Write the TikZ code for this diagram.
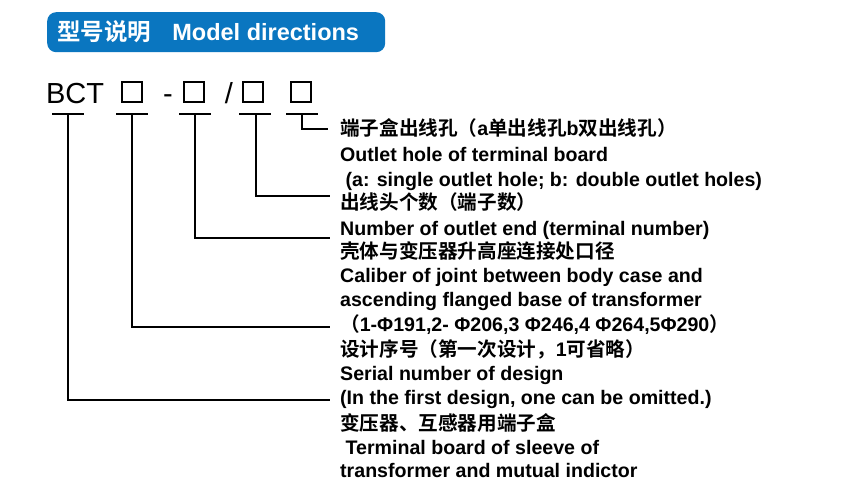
\documentclass[tikz,border=0pt]{standalone}
\usepackage{fontspec}
\setmainfont{Liberation Sans}
\newfontfamily\cjk{Noto Sans CJK SC}[BoldFont=* Bold]
\definecolor{banner}{HTML}{0A76C0}
\begin{document}
\begin{tikzpicture}[x=1pt,y=-1pt,
  txt/.style={anchor=base west,inner sep=0pt,font=\fontsize{19.6}{21}\selectfont\bfseries},
  code/.style={anchor=base,inner sep=0pt,font=\fontsize{29}{30}\selectfont},
  sq/.style={draw,line width=1.6pt,minimum width=20pt,minimum height=20pt,inner sep=0pt,anchor=south},
  ln/.style={line width=1.6pt}]
\useasboundingbox (0,0) rectangle (846,502);
\fill[white] (0,0) rectangle (846,502);
\node[fill=banner,rounded corners=9pt,minimum width=338pt,minimum height=40pt,anchor=north west,inner sep=0pt] (ban) at (47,12) {};
\node[anchor=west,text=white,inner sep=0pt,font=\fontsize{23.5}{25}\selectfont\bfseries] (bt) at (57,32) {{\cjk 型号说明}\hspace{0.9em}Model directions};
\node[code] (bct) at (75,104) {BCT};
\node[sq] (b1) at (132,103) {};
\node[code] (d1) at (168,104) {-};
\node[sq] (b2) at (194,103) {};
\node[code] (sl) at (229,104) {/};
\node[sq] (b3) at (253,103) {};
\node[sq] (b4) at (301,103) {};
\foreach \n/\x/\y in {t5/340/136,t5b/340/162,t5c/340/187,t4/340/210,t4b/340/236,t3/340/259,t3b/340/283,t3c/340/307,t3d/340/332,t2/340/357,t2b/340/381,t2c/340/405,t1/340/430,t1b/340/454,t1c/340/477}{\coordinate (\n) at (\x,\y);}
\node[txt] at (t5) {{\cjk 端子盒出线孔（}a{\cjk 单出线孔}b{\cjk 双出线孔）}};
\node[txt] at (t5b) {Outlet hole of terminal board};
\node[txt] at (t5c) {\ (a: single outlet hole; b: double outlet holes)};
\node[txt] at (t4) {{\cjk 出线头个数（端子数）}};
\node[txt] at (t4b) {Number of outlet end (terminal number)};
\node[txt] at (t3) {{\cjk 壳体与变压器升高座连接处口径}};
\node[txt] at (t3b) {Caliber of joint between body case and};
\node[txt] at (t3c) {ascending flanged base of transformer};
\node[txt] at (t3d) {{\cjk （}1-Φ191,2- Φ206,3 Φ246,4 Φ264,5Φ290{\cjk ）}};
\node[txt] at (t2) {{\cjk 设计序号（第一次设计，}1{\cjk 可省略）}};
\node[txt] at (t2b) {Serial number of design};
\node[txt] at (t2c) {(In the first design, one can be omitted.)};
\node[txt] at (t1) {{\cjk 变压器、互感器用端子盒}};
\node[txt] at (t1b) {\ Terminal board of sleeve of};
\node[txt] at (t1c) {transformer and mutual indictor};
\coordinate (e5) at (328,129);
\coordinate (e4) at (330,196);
\coordinate (e3) at (330,238);
\coordinate (e2) at (330,327);
\coordinate (e1) at (330,400);
\draw[ln] (52,114) -- (84,114) (68,114) |- (e1);
\draw[ln] (116,114) -- (148,114) (132,114) |- (e2);
\draw[ln] (179,114) -- (211,114) (195,114) |- (e3);
\draw[ln] (239,114) -- (271,114) (256,114) |- (e4);
\draw[ln] (286,114) -- (318,114) (302,114) |- (e5);
\end{tikzpicture}
\end{document}
